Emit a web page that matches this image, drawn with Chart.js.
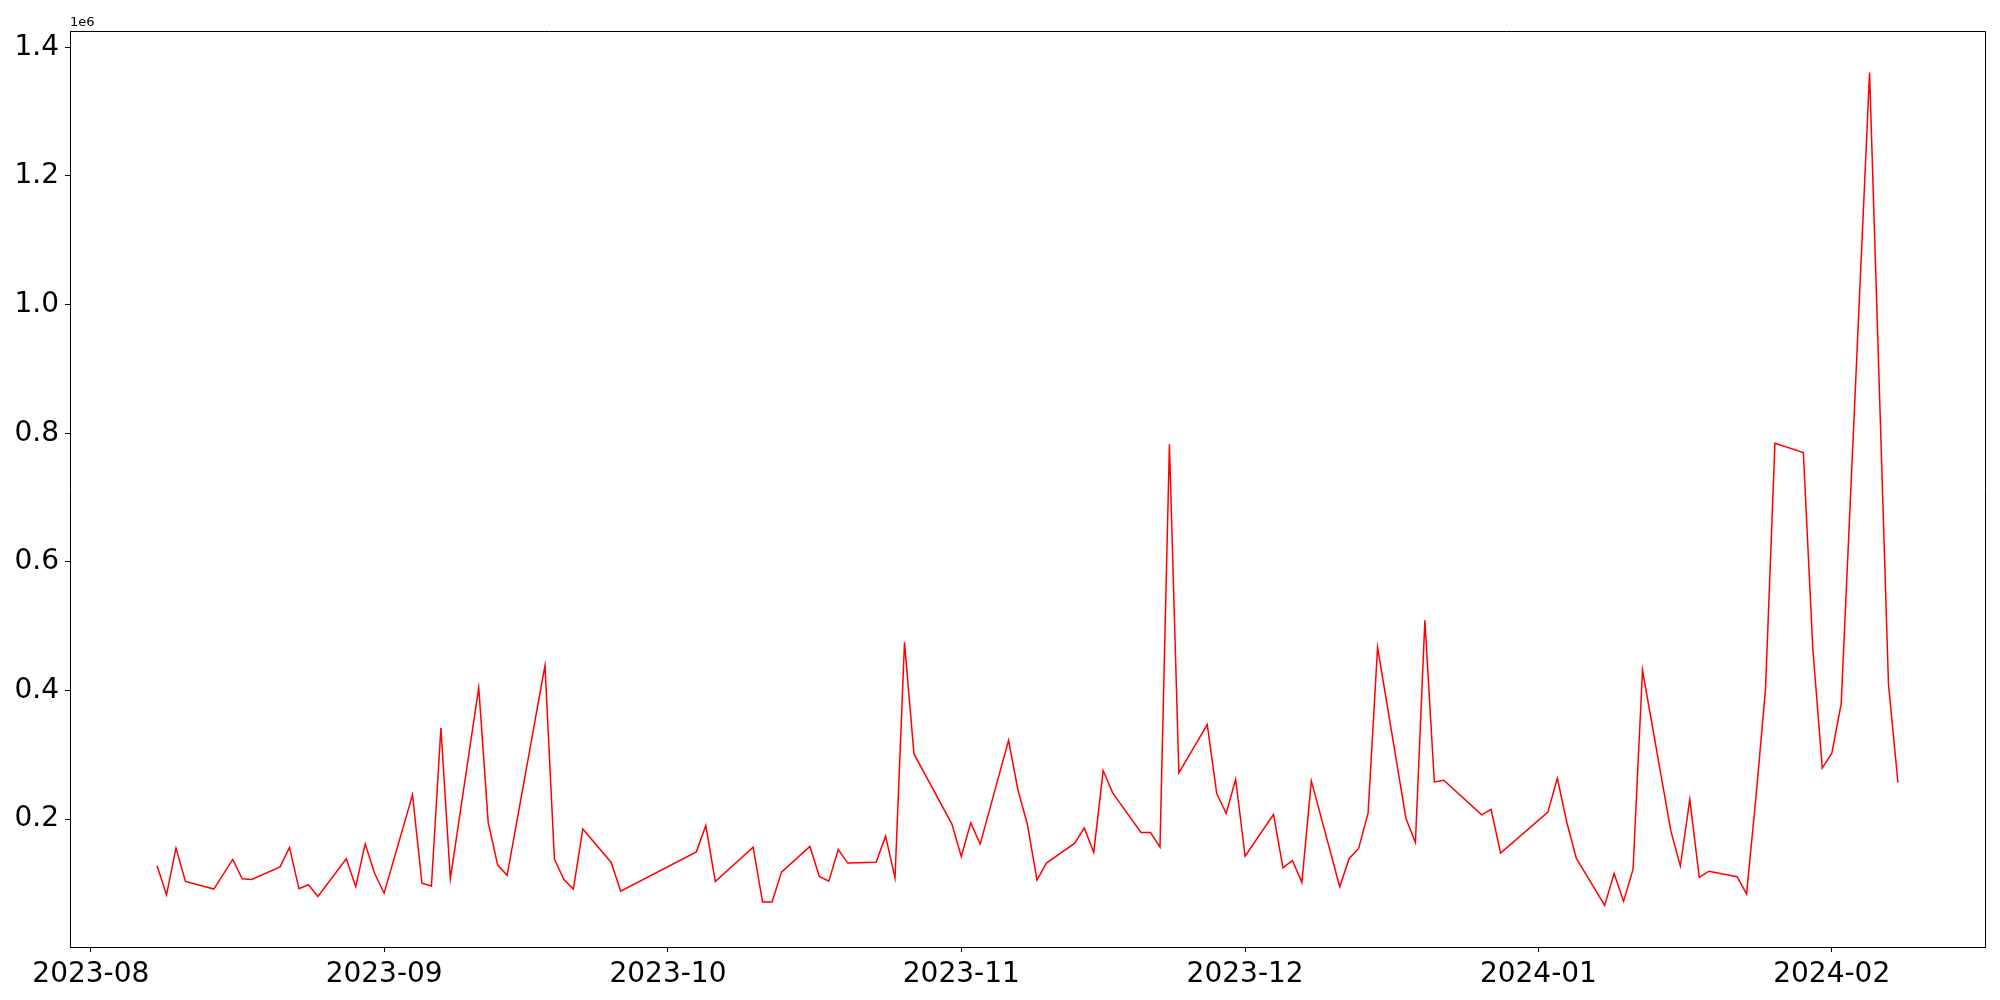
<!DOCTYPE html>
<html>
<head>
<meta charset="utf-8">
<script src="https://cdn.jsdelivr.net/npm/chart.js@4/dist/chart.umd.min.js"></script>
<style>
  html, body { margin: 0; padding: 0; background: #ffffff; }
  #wrap { width: 2000px; height: 1000px; }
</style>
</head>
<body>
<div id="wrap"><canvas id="c" width="2000" height="1000"></canvas></div>
<script>
// ---- data ----
const dates = [
  '2023-08-08','2023-08-09','2023-08-10','2023-08-11','2023-08-14','2023-08-16','2023-08-17','2023-08-18',
  '2023-08-21','2023-08-22','2023-08-23','2023-08-24','2023-08-25','2023-08-28','2023-08-29','2023-08-30',
  '2023-08-31','2023-09-01','2023-09-04','2023-09-05','2023-09-06','2023-09-07','2023-09-08','2023-09-11',
  '2023-09-12','2023-09-13','2023-09-14','2023-09-18','2023-09-19','2023-09-20','2023-09-21','2023-09-22',
  '2023-09-25','2023-09-26','2023-10-04','2023-10-05','2023-10-06','2023-10-10','2023-10-11','2023-10-12',
  '2023-10-13','2023-10-16','2023-10-17','2023-10-18','2023-10-19','2023-10-20','2023-10-23','2023-10-24',
  '2023-10-25','2023-10-26','2023-10-27','2023-10-31','2023-11-01','2023-11-02','2023-11-03','2023-11-06',
  '2023-11-07','2023-11-08','2023-11-09','2023-11-10','2023-11-13','2023-11-14','2023-11-15','2023-11-16',
  '2023-11-17','2023-11-20','2023-11-21','2023-11-22','2023-11-23','2023-11-24','2023-11-27','2023-11-28',
  '2023-11-29','2023-11-30','2023-12-01','2023-12-04','2023-12-05','2023-12-06','2023-12-07','2023-12-08',
  '2023-12-11','2023-12-12','2023-12-13','2023-12-14','2023-12-15','2023-12-18','2023-12-19','2023-12-20',
  '2023-12-21','2023-12-22','2023-12-26','2023-12-27','2023-12-28','2024-01-02','2024-01-03','2024-01-04',
  '2024-01-05','2024-01-08','2024-01-09','2024-01-10','2024-01-11','2024-01-12','2024-01-15','2024-01-16',
  '2024-01-17','2024-01-18','2024-01-19','2024-01-22','2024-01-23','2024-01-24','2024-01-25','2024-01-26',
  '2024-01-29','2024-01-30','2024-01-31','2024-02-01','2024-02-02','2024-02-05','2024-02-07','2024-02-08'
];
const values = [
  127400, 82300, 154900, 103100, 91200, 137300, 107200, 106200,
  125800, 156000, 91700, 97900, 79800, 138300, 94800, 161600,
  115300, 84800, 237800, 100300, 96000, 341600, 107200, 404600,
  195000, 128600, 112600, 438800, 137800, 106200, 91200, 184800,
  132600, 88100, 149100, 190100, 103100, 156400, 71000, 71000,
  117600, 157500, 110900, 103600, 152800, 131600, 133100, 173500,
  108700, 474800, 301400, 192600, 141900, 194200, 161100, 322600,
  244500, 191200, 105200, 131600, 162600, 186400, 148200, 275500,
  240800, 179200, 179200, 156400, 783000, 271800, 347000, 239800,
  208800, 262000, 142200, 207200, 124300, 135800, 101600, 259400,
  94800, 138900, 154400, 209700, 467100, 201000, 163700, 509000,
  257800, 260500, 206600, 215000, 147100, 210800, 263600, 194800,
  139300, 65900, 115600, 72100, 121800, 431300, 181300, 126900,
  230600, 109300, 119000, 110400, 83700, 235600, 401400, 784400,
  770000, 465700, 279400, 302000, 379000, 1360700, 409400, 257000
];
const monthTicks = ['2023-08','2023-09','2023-10','2023-11','2023-12','2024-01','2024-02'];
const yTicks = [200000, 400000, 600000, 800000, 1000000, 1200000, 1400000];
const offsetLabel = '1e6';
const lineColor = '#ff0000';

// ---- helpers ----
function toDay(s) {
  const p = s.split('-').map(Number);
  return Date.UTC(p[0], p[1] - 1, p[2] || 1) / 86400000;
}
const points = dates.map((d, i) => ({ x: toDay(d), y: values[i] }));
const xs = points.map(p => p.x);
const xMinD = Math.min(...xs), xMaxD = Math.max(...xs);
const xPad = 0.05 * (xMaxD - xMinD);
const yMinD = Math.min(...values), yMaxD = Math.max(...values);
const yPad = 0.05 * (yMaxD - yMinD);
const monthPos = monthTicks.map(m => toDay(m + '-01'));
const FONT = "'DejaVu Sans', sans-serif";

const framePlugin = {
  id: 'frame',
  afterDraw(chart) {
    const a = chart.chartArea;
    const ctx = chart.ctx;
    ctx.save();
    ctx.strokeStyle = '#000000';
    ctx.lineWidth = 1;
    ctx.beginPath();
    ctx.moveTo(Math.round(a.left) + 0.5, Math.round(a.top) + 0.5);
    ctx.lineTo(Math.round(a.right) + 0.5, Math.round(a.top) + 0.5);
    ctx.lineTo(Math.round(a.right) + 0.5, Math.round(a.bottom) + 0.5);
    ctx.stroke();
    ctx.fillStyle = '#000000';
    ctx.font = "13px " + FONT;
    ctx.textAlign = 'left';
    ctx.textBaseline = 'alphabetic';
    ctx.fillText(offsetLabel, a.left, a.top - 5);
    ctx.restore();
  }
};

new Chart(document.getElementById('c'), {
  type: 'line',
  data: {
    datasets: [{
      data: points,
      borderColor: lineColor,
      backgroundColor: lineColor,
      borderWidth: 1.5,
      pointRadius: 0,
      tension: 0,
      fill: false
    }]
  },
  options: {
    responsive: false,
    animation: false,
    devicePixelRatio: 1,
    parsing: false,
    layout: { padding: { left: 0, top: 31, right: 15, bottom: 0 } },
    plugins: { legend: { display: false }, tooltip: { enabled: false }, title: { display: false } },
    scales: {
      x: {
        type: 'linear',
        min: xMinD - xPad,
        max: xMaxD + xPad,
        afterBuildTicks: s => { s.ticks = monthPos.map(v => ({ value: v })); },
        afterFit: s => { s.height = 53; },
        ticks: {
          autoSkip: false,
          maxRotation: 0,
          minRotation: 0,
          padding: 6,
          color: '#000000',
          font: { family: FONT, size: 28 },
          callback: v => { const i = monthPos.indexOf(v); return i >= 0 ? monthTicks[i] : ''; }
        },
        grid: { display: true, drawOnChartArea: false, drawTicks: true, tickLength: 5, color: '#000000', lineWidth: 1 },
        border: { display: true, color: '#000000', width: 1 }
      },
      y: {
        type: 'linear',
        min: yMinD - yPad,
        max: yMaxD + yPad,
        afterBuildTicks: s => { s.ticks = yTicks.map(v => ({ value: v })); },
        afterFit: s => { s.width = 70; },
        ticks: {
          padding: 6,
          color: '#000000',
          font: { family: FONT, size: 28 },
          callback: v => (v / 1e6).toFixed(1)
        },
        grid: { display: true, drawOnChartArea: false, drawTicks: true, tickLength: 5, color: '#000000', lineWidth: 1 },
        border: { display: true, color: '#000000', width: 1 }
      }
    }
  },
  plugins: [framePlugin]
});
</script>
</body>
</html>
